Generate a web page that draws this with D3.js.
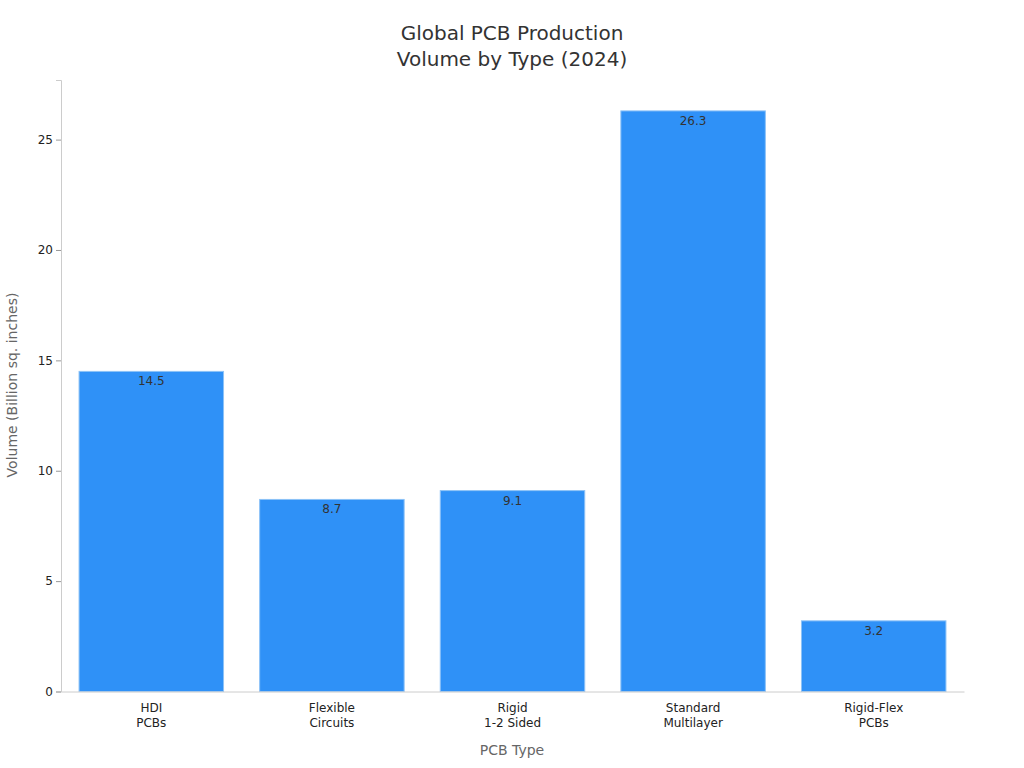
<!DOCTYPE html>
<html><head><meta charset="utf-8">
<script src="https://cdn.jsdelivr.net/npm/d3@7"></script>
<style>body{margin:0;background:#fff;font-family:"DejaVu Sans",sans-serif}</style>
</head><body>
<svg id="chart" width="1024" height="768"></svg>
<script>
// Chart data
const categories = [["HDI", "PCBs"], ["Flexible", "Circuits"], ["Rigid", "1-2 Sided"], ["Standard", "Multilayer"], ["Rigid-Flex", "PCBs"]];
const volumes = [14.5, 8.7, 9.1, 26.3, 3.2];
const yTicks = [0, 5, 10, 15, 20, 25];

const svg = d3.select("#chart");
const plotLeft = 61, plotRight = 964, plotTop = 80, plotBottom = 691.5;

const x = d3.scaleBand().domain(d3.range(categories.length)).range([plotLeft, plotRight])
  .paddingInner(0.2).paddingOuter(0.1);
const y = d3.scaleLinear().domain([0, 27.7]).range([plotBottom, plotTop]);

// Bars
svg.selectAll("rect.bar").data(volumes).enter().append("rect")
  .attr("class", "bar")
  .attr("x", (d, i) => x(i))
  .attr("y", d => y(d))
  .attr("width", x.bandwidth())
  .attr("height", d => y(0) - y(d))
  .attr("fill", "#2f91f7")
  .attr("stroke", "#8cc2f7")
  .attr("stroke-width", 1);

// Value labels
svg.selectAll("text.val").data(volumes).enter().append("text")
  .attr("x", (d, i) => x(i) + x.bandwidth() / 2)
  .attr("y", d => y(d) + 14)
  .attr("text-anchor", "middle")
  .attr("font-size", 12)
  .attr("fill", "#333")
  .text(d => d.toFixed(1));

// Y axis
const yAxis = svg.append("g").attr("transform", `translate(${plotLeft},0)`)
  .call(d3.axisLeft(y).tickValues(yTicks).tickSize(5).tickPadding(3));
yAxis.select(".domain").attr("stroke", "#ccc");
yAxis.selectAll(".tick line").attr("stroke", "#999");
yAxis.selectAll("text").attr("font-size", 12).attr("fill", "#222").attr("font-family", "DejaVu Sans");

// X axis
const xAxis = svg.append("g").attr("transform", `translate(0,${plotBottom})`)
  .call(d3.axisBottom(x).tickSize(0).tickFormat(""));
xAxis.select(".domain").attr("stroke", "#ccc");
xAxis.selectAll(".tick").each(function (d) {
  const t = d3.select(this).append("text")
    .attr("text-anchor", "middle").attr("font-size", 12).attr("fill", "#222")
    .attr("font-family", "DejaVu Sans");
  categories[d].forEach((line, j) => {
    t.append("tspan").attr("x", 0).attr("y", 20 + j * 15).text(line);
  });
});

// Titles
svg.append("text").attr("x", 512).attr("y", 40).attr("text-anchor", "middle")
  .attr("font-size", 20).attr("fill", "#333").text("Global PCB Production");
svg.append("text").attr("x", 512).attr("y", 66).attr("text-anchor", "middle")
  .attr("font-size", 20).attr("fill", "#333").text("Volume by Type (2024)");
svg.append("text").attr("x", 512).attr("y", 755).attr("text-anchor", "middle")
  .attr("font-size", 14).attr("fill", "#666").text("PCB Type");
svg.append("text").attr("transform", "translate(17,385) rotate(-90)").attr("text-anchor", "middle")
  .attr("font-size", 14).attr("fill", "#666").text("Volume (Billion sq. inches)");
</script>
</body></html>
